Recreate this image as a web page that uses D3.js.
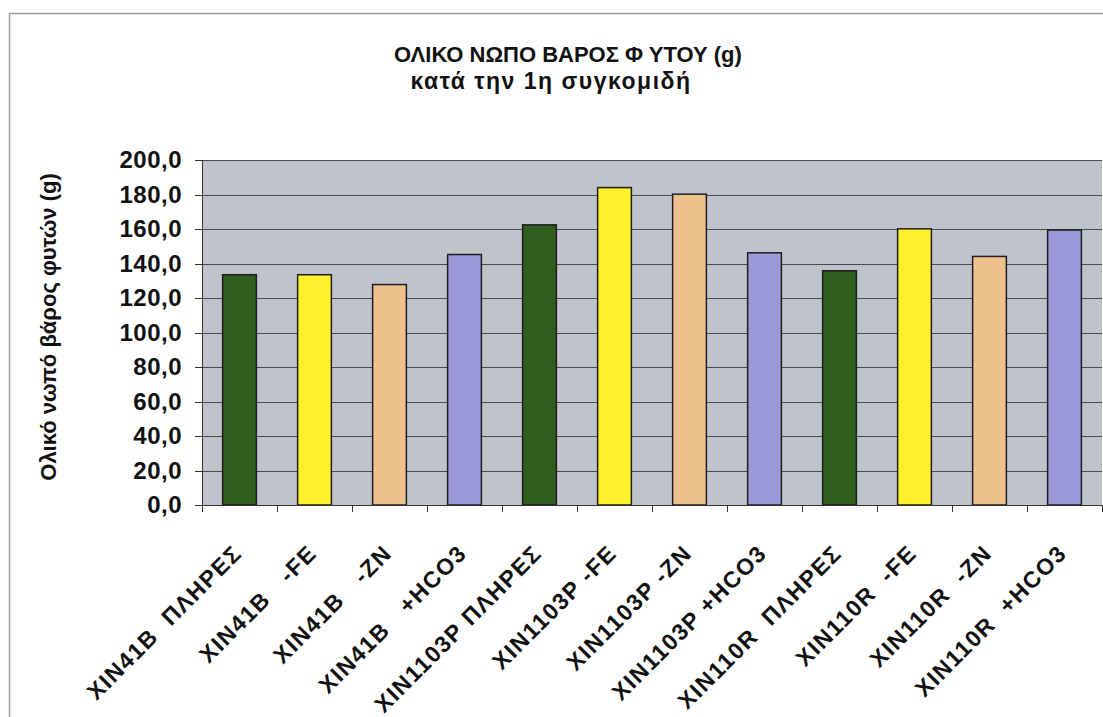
<!DOCTYPE html>
<meta charset="utf-8">
<style>
body { margin: 0; background: #fff; }
svg { font-family: "Liberation Sans", Arial, sans-serif; font-weight: bold; }
.grid line { stroke: #4a4a4a; stroke-width: 1px; shape-rendering: crispEdges; }
.grid path { stroke-width: 0; }
.axis path, .axis line { stroke: #333; stroke-width: 1px; shape-rendering: crispEdges; }
.axis text { fill: #111; }
.bar { stroke: #1e1e1e; stroke-width: 1.5px; }
</style>
<body>
<script src="https://d3js.org/d3.v7.min.js"></script>
<script>

// chart data
var categories = ["XIN41B  ΠΛΗΡΕΣ", "XIN41B   -FE", "XIN41B   -ZN", "XIN41B   +HCO3",
                  "XIN1103P ΠΛΗΡΕΣ", "XIN1103P -FE", "XIN1103P -ZN", "XIN1103P +HCO3",
                  "XIN110R  ΠΛΗΡΕΣ", "XIN110R  -FE", "XIN110R  -ZN", "XIN110R  +HCO3"];
var values = [133.5, 133.5, 127.8, 145.2, 162.4, 184.0, 180.2, 146.2, 135.8, 160.1, 144.1, 159.4];
var treatments = ["full", "fe", "zn", "hco3", "full", "fe", "zn", "hco3", "full", "fe", "zn", "hco3"];
var yTicks = [0, 20, 40, 60, 80, 100, 120, 140, 160, 180, 200];

var W = 1103, H = 717;
var margin = {top: 160, right: 1, bottom: 212, left: 202},
    width = W - margin.left - margin.right,
    height = H - margin.top - margin.bottom;

var svg = d3.select("body").append("svg")
    .attr("width", W)
    .attr("height", H);

// outer chart frame
svg.append("rect")
  .attr("x", 9.5).attr("y", 13.5)
  .attr("width", W).attr("height", H)
  .attr("fill", "none")
  .attr("stroke", "#9a9a9a")
  .attr("stroke-width", 1.5);

var g = svg.append("g")
    .attr("transform", "translate(" + margin.left + "," + margin.top + ")");

var x = d3.scaleBand().domain(categories).range([0, width]).paddingInner(0.55).paddingOuter(0.275);
var x0 = d3.scaleBand().domain(categories).range([0, width]);
var y = d3.scaleLinear().domain([0, 200]).range([height, 0]);

var color = d3.scaleOrdinal()
  .domain(["full", "fe", "zn", "hco3"])
  .range(["#2f5e1e", "#fff02c", "#eec08e", "#9c99d8"]);

// plot background
g.append("rect")
  .attr("width", width).attr("height", height)
  .attr("fill", "#c0c3cb");

// horizontal gridlines
g.append("g")
  .attr("class", "grid")
  .call(d3.axisLeft(y).tickValues(yTicks).tickSize(-width).tickFormat(""));

// bars
g.append("g")
  .selectAll("rect")
  .data(values)
  .enter()
  .append("rect")
    .attr("class", "bar")
    .attr("x", function(d, i) { return x(categories[i]); })
    .attr("y", function(d) { return y(d); })
    .attr("width", x.bandwidth())
    .attr("height", function(d) { return height - y(d); })
    .attr("fill", function(d, i) { return color(treatments[i]); });

// y axis
var fmt = d3.format(".1f");
var gy = g.append("g")
  .attr("class", "axis")
  .call(d3.axisLeft(y).tickValues(yTicks).tickSize(7).tickPadding(13)
        .tickFormat(function(d) { return fmt(d).replace(".", ","); }));
gy.selectAll("text")
  .style("font-size", "24px")
  .style("font-weight", "bold")
  .style("letter-spacing", "0.5px");

// x axis: ticks on category boundaries
var bounds = categories.map(function(c) { return x0(c); }).concat([width]);
var gx = g.append("g")
  .attr("class", "axis")
  .attr("transform", "translate(0," + height + ")");
gx.append("line").attr("x1", 0).attr("x2", width).attr("y1", 0).attr("y2", 0);
gx.selectAll(".tk")
  .data(bounds)
  .enter()
  .append("line")
    .attr("x1", function(d) { return d; })
    .attr("x2", function(d) { return d; })
    .attr("y1", 0).attr("y2", 7);

gx.selectAll(".lbl")
  .data(categories)
  .enter()
  .append("text")
    .attr("text-anchor", "end")
    .attr("xml:space", "preserve")
    .style("white-space", "pre")
    .style("font-size", "23px")
    .style("letter-spacing", "1.5px")
    .attr("fill", "#111")
    .attr("transform", function(d) {
      return "translate(" + (x0(d) + x0.bandwidth() / 2 - 2) + ",44) rotate(-45)";
    })
    .attr("dy", "0.35em")
    .text(function(d) { return d; });

// title
svg.append("text")
  .attr("x", 568).attr("y", 62)
  .attr("text-anchor", "middle")
  .style("font-size", "22px")
  .attr("fill", "#111")
  .text("ΟΛΙΚΟ ΝΩΠΟ ΒΑΡΟΣ Φ ΥΤΟΥ (g)");
svg.append("text")
  .attr("x", 551).attr("y", 89)
  .attr("text-anchor", "middle")
  .style("font-size", "23px")
  .style("letter-spacing", "1.5px")
  .attr("fill", "#111")
  .text("κατά την 1η συγκομιδή");

// y axis label
svg.append("text")
  .attr("transform", "translate(56,327) rotate(-90)")
  .attr("text-anchor", "middle")
  .style("font-size", "22px")
  .attr("fill", "#111")
  .text("Ολικό νωπό βάρος φυτών (g)");

</script>
</body>
